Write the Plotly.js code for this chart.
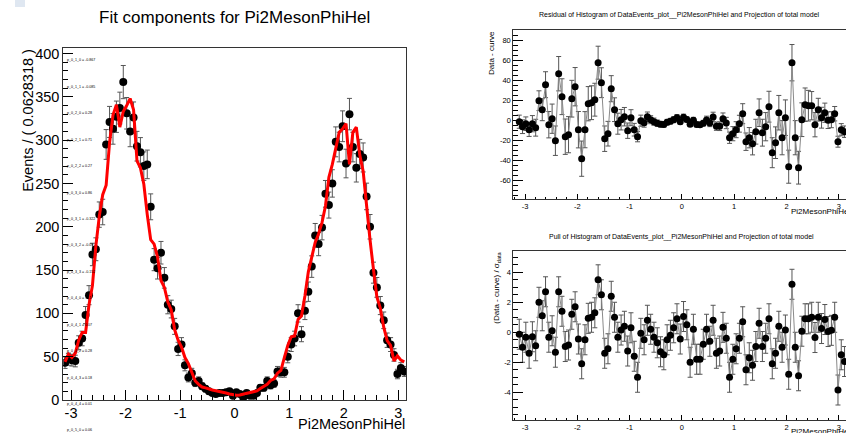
<!DOCTYPE html>
<html><head><meta charset="utf-8">
<script src="https://cdn.plot.ly/plotly-3.0.1.min.js"></script>
<style>html,body{margin:0;padding:0;overflow:hidden;background:#fff;width:846px;height:433px}#plot{width:852px;height:433px}</style>
</head><body><div id="plot"></div><script>
// Bin centres of Pi2MesonPhiHel (100 bins, width 0.0628318)
const xCenters = [-3.1102,-3.0473,-2.9845,-2.9217,-2.8588,-2.7960,-2.7332,-2.6704,-2.6075,-2.5447,
-2.4819,-2.4190,-2.3562,-2.2934,-2.2305,-2.1677,-2.1049,-2.0420,-1.9792,-1.9164,
-1.8535,-1.7907,-1.7279,-1.6650,-1.6022,-1.5394,-1.4765,-1.4137,-1.3509,-1.2881,
-1.2252,-1.1624,-1.0996,-1.0367,-0.9739,-0.9111,-0.8482,-0.7854,-0.7226,-0.6597,
-0.5969,-0.5341,-0.4712,-0.4084,-0.3456,-0.2827,-0.2199,-0.1571,-0.0942,-0.0314,
0.0314,0.0942,0.1571,0.2199,0.2827,0.3456,0.4084,0.4712,0.5341,0.5969,
0.6597,0.7226,0.7854,0.8482,0.9111,0.9739,1.0367,1.0996,1.1624,1.2252,
1.2881,1.3509,1.4137,1.4765,1.5394,1.6022,1.6650,1.7279,1.7907,1.8535,
1.9164,1.9792,2.0420,2.1049,2.1677,2.2305,2.2934,2.3562,2.4190,2.4819,
2.5447,2.6075,2.6704,2.7332,2.7960,2.8588,2.9217,2.9845,3.0473,3.1102];

// Events per bin (data histogram)
const events = [43,47,46,45,66,71,98,121,168,174,
214,217,295,321,313,327,337,367,331,310,
326,293,286,270,272,223,162,152,170,141,
110,105,85,59,64,40,26,31,20,22,
16,13,10,8,7,8,8,9,10,5,
9,7,3,8,5,5,8,14,14,22,
17,19,33,32,32,50,64,71,100,76,
103,125,154,190,180,199,238,225,250,298,
292,316,273,330,292,268,284,280,235,200,
147,130,109,92,69,64,52,30,37,33];

// Total model projection (red curve) at bin centres
const curve = [44,53,49,54,69,78,78,110,132,178,
212,237,248,297,329,341,315,333,340,348,
335,276,268,249,214,185,180,165,138,130,
113,104,81,69,61,49,42,31,22,18,
15,14,12.5,11.5,10.7,9.5,8.5,8,7,6,
5.5,5.7,6.5,7.5,8.8,9,10.5,13.2,16.2,18.2,
22.5,24.5,31,34.3,49,63,73,74,93,97,
120,148,165,182,192,205,224,257,272,290,
309,313,319,272,309,315,283,264,220,185,
151,119,106,84,68.5,63,45,51,46,44];

// Residual: data - curve
const residual = [-1,-6,-3,-9,-3,-7,20,11,36,-4,
2,-20,47,24,-16,-14,22,34,-9,-38,
-9,17,18,21,58,38,-18,-13,32,11,
-3,1,4,-10,3,-9,-16,0,-2,4,
1,-1,-2.5,-3.5,-3.7,-1.5,-0.5,1,3,-1,
3.5,1.3,-3.5,0.5,-3.8,-4,-2.5,0.8,-2.2,3.8,
-5.5,-5.5,2,-2.3,-17,-13,-9,-3,7,-21,
-17,-23,-11,8,-12,-6,14,-32,-22,8,
-17,3,-46,58,-17,-47,1,16,15,15,
-4,11,3,8,0.5,1,7,-21,-9,-11];

// Pull: (data - curve) / sigma_data
const pull = [-0.13,-1.0,-0.33,-1.4,-0.3,-0.9,2.0,1.1,2.7,-0.33,
0.1,-1.33,2.7,1.4,-0.95,-0.85,1.2,1.7,-0.45,-2.1,
-0.5,0.93,1.0,1.3,3.5,2.5,-1.4,-1.1,2.4,1.0,
-0.33,0.15,0.4,-1.25,0.3,-1.6,-3.0,-0.07,-0.5,0.8,
0.2,-0.33,-0.7,-1.3,-1.5,-0.5,-0.2,0.3,0.9,-0.45,
1.05,0.5,-2.0,0.2,-1.8,-1.8,-0.8,0.2,-0.6,0.8,
-1.4,-1.25,0.33,-0.4,-3.0,-1.8,-1.1,-0.4,0.7,-2.5,
-1.7,-2.2,-0.95,0.6,-0.95,-0.4,0.9,-2.1,-1.4,0.4,
-1.0,0.15,-2.8,3.2,-1.0,-2.9,0.07,0.9,0.9,1.0,
-0.35,1.0,0.25,0.85,0.05,0.13,1.0,-3.85,-1.5,-1.95];

// Tick labels
const phiTicks = [-3,-2,-1,0,1,2,3];
const phiTickText = ['-3','-2','-1','0','1','2','3'];
const residTicks = [-60,-40,-20,0,20,40,60,80];
const residTickText = ['-60','-40','-20','0','20','40','60','80'];
const pullTicks = [-4,-2,0,2,4];
const pullTickText = ['-4','-2','0','2','4'];

// Fit parameter labels drawn inside the main frame
const paramLabels = ['p_0_1_0 = -0.867','p_0_1_1 = -0.085','p_0_2_0 = 0.28','p_0_2_1 = 0.71',
'p_0_2_2 = 0.27','p_0_3_0 = 0.86','p_0_3_1 = -0.322','p_0_3_2 = -0.09','p_0_3_3 = -0.152',
'p_0_4_0 = -0.1','p_0_4_1 = 0.07','p_0_4_2 = 0.28','p_0_4_3 = 0.18','p_0_4_4 = 0.01','p_0_5_0 = 0.06'];

const W = 852, H = 433;
const px = v => v / W, py = v => 1 - v / H;
const FONT = 'Liberation Sans, Arial, Helvetica, sans-serif';
const residErr = events.map(v => Math.sqrt(v));

const traces = [
  {x: xCenters, y: events, type: 'scatter', mode: 'markers', xaxis: 'x', yaxis: 'y',
   marker: {color: '#000', size: 8},
   error_y: {type: 'sqrt', color: '#555', thickness: 1, width: 2.5}},
  {x: xCenters, y: curve, type: 'scatter', mode: 'lines', xaxis: 'x', yaxis: 'y',
   line: {color: '#ff0000', width: 3}},
  {x: xCenters, y: residual, type: 'scatter', mode: 'lines+markers', xaxis: 'x2', yaxis: 'y2',
   line: {color: '#8a8a8a', width: 1}, marker: {color: '#000', size: 7},
   error_y: {type: 'data', array: residErr, color: '#555', thickness: 1, width: 2.5}},
  {x: xCenters, y: pull, type: 'scatter', mode: 'lines+markers', xaxis: 'x3', yaxis: 'y3',
   line: {color: '#8a8a8a', width: 1}, marker: {color: '#000', size: 7},
   error_y: {type: 'constant', value: 1, color: '#555', thickness: 1, width: 2.5}}
];

function axis(o) {
  return Object.assign({
    showline: true, mirror: true, linecolor: '#333', linewidth: 1,
    ticks: 'inside', tickcolor: '#000', tickwidth: 1,
    showgrid: false, zeroline: false, fixedrange: true,
    tickfont: {family: FONT, size: 7.5, color: '#000'}
  }, o);
}

const annotations = [
  {text: 'Fit components for Pi2MesonPhiHel', x: px(234.7), y: py(17), size: 17, xa: 'center', ya: 'middle'},
  {text: 'Events / ( 0.0628318 )', x: px(28), y: py(48.3), size: 14.5, xa: 'center', ya: 'top', rot: -90},
  {text: 'Pi2MesonPhiHel', x: px(406), y: py(424), size: 14.5, xa: 'right', ya: 'middle'},
  {text: 'Residual of Histogram of DataEvents_plot__Pi2MesonPhiHel and Projection of total model', x: px(679.5), y: py(15), size: 7, xa: 'center', ya: 'middle'},
  {text: 'Data - curve', x: px(491), y: py(30), size: 8, xa: 'center', ya: 'top', rot: -90},
  {text: 'Pi2MesonPhiHel', x: px(850.5), y: py(211), size: 8, xa: 'right', ya: 'middle'},
  {text: 'Pull of Histogram of DataEvents_plot__Pi2MesonPhiHel and Projection of total model', x: px(681.5), y: py(236.7), size: 7, xa: 'center', ya: 'middle'},
  {text: '(Data - curve) / σ<sub>data</sub>', x: px(497), y: py(250.7), size: 8, xa: 'center', ya: 'top', rot: -90},
  {text: 'Pi2MesonPhiHel', x: px(850.5), y: py(431), size: 8, xa: 'right', ya: 'middle'}
].map(a => ({text: a.text, x: a.x, y: a.y, xref: 'paper', yref: 'paper', showarrow: false,
  xanchor: a.xa, yanchor: a.ya, textangle: a.rot || 0, borderpad: 0,
  font: {family: FONT, size: a.size, color: '#000'}}));

paramLabels.forEach((t, k) => annotations.push({
  text: t, x: px(66), y: py(60.3 + 26.44 * k), xref: 'paper', yref: 'paper', showarrow: false,
  xanchor: 'left', yanchor: 'middle', borderpad: 0, font: {family: FONT, size: 3.6, color: '#000'}
}));

const layout = {
  width: W, height: H, margin: {l: 0, r: 0, t: 0, b: 0},
  paper_bgcolor: '#fff', plot_bgcolor: '#fff', showlegend: false,
  xaxis: axis({domain: [px(63.3), px(406)], range: [-Math.PI, Math.PI], anchor: 'y',
    tickmode: 'array', tickvals: phiTicks, ticktext: phiTickText, ticklen: 10,
    tickfont: {family: FONT, size: 14.5, color: '#000'},
    minor: {tickmode: 'linear', tick0: 0, dtick: 0.2, ticklen: 5, ticks: 'inside', tickcolor: '#000', showgrid: false}}),
  yaxis: axis({domain: [py(400), py(48.3)], range: [0, 406], anchor: 'x',
    tickmode: 'linear', tick0: 0, dtick: 50, ticklen: 10,
    tickfont: {family: FONT, size: 14.5, color: '#000'},
    minor: {tickmode: 'linear', tick0: 0, dtick: 10, ticklen: 5, ticks: 'inside', tickcolor: '#000', showgrid: false}}),
  xaxis2: axis({domain: [px(513.3), px(850.5)], range: [-3.224, 3.224], anchor: 'y2',
    tickmode: 'array', tickvals: phiTicks, ticktext: phiTickText, ticklen: 5,
    minor: {tickmode: 'linear', tick0: 0, dtick: 0.2, ticklen: 2.5, ticks: 'inside', tickcolor: '#000', showgrid: false}}),
  yaxis2: axis({domain: [py(199), py(30)], range: [-78.3, 90.7], anchor: 'x2',
    tickmode: 'array', tickvals: residTicks, ticktext: residTickText, ticklen: 10,
    minor: {tickmode: 'linear', tick0: 0, dtick: 5, ticklen: 5, ticks: 'inside', tickcolor: '#000', showgrid: false}}),
  xaxis3: axis({domain: [px(513.3), px(850.5)], range: [-3.224, 3.224], anchor: 'y3',
    tickmode: 'array', tickvals: phiTicks, ticktext: phiTickText, ticklen: 5,
    minor: {tickmode: 'linear', tick0: 0, dtick: 0.2, ticklen: 2.5, ticks: 'inside', tickcolor: '#000', showgrid: false}}),
  yaxis3: axis({domain: [py(420), py(250.7)], range: [-5.85, 5.44], anchor: 'x3',
    tickmode: 'array', tickvals: pullTicks, ticktext: pullTickText, ticklen: 10,
    minor: {tickmode: 'linear', tick0: 0, dtick: 0.5, ticklen: 5, ticks: 'inside', tickcolor: '#000', showgrid: false}}),
  annotations: annotations,
  shapes: [{type: 'rect', xref: 'paper', yref: 'paper', x0: px(15), x1: px(25), y0: py(7), y1: py(0),
    fillcolor: '#dfe7f1', line: {width: 0}}]
};

Plotly.newPlot('plot', traces, layout, {staticPlot: true, displayModeBar: false});
</script></body></html>
